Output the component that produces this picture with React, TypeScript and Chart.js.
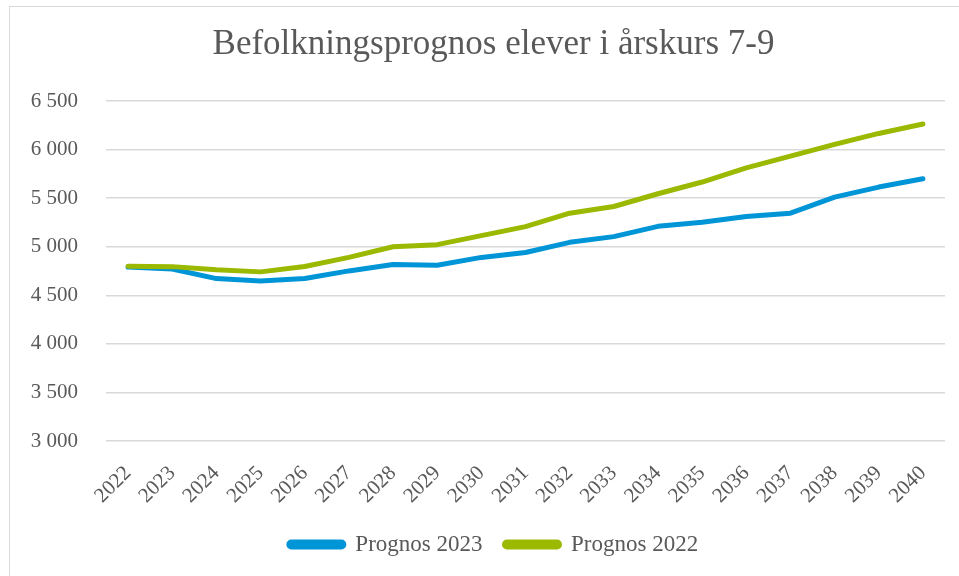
import React, { useEffect, useRef } from "react";
import { Chart, registerables } from "chart.js";

Chart.register(...registerables);

const titleText = "Befolkningsprognos elever i årskurs 7-9";
const years = ["2022", "2023", "2024", "2025", "2026", "2027", "2028", "2029", "2030", "2031", "2032", "2033", "2034", "2035", "2036", "2037", "2038", "2039", "2040"];
const prognos2023 = [4790, 4770, 4672, 4648, 4672, 4751, 4817, 4810, 4890, 4941, 5045, 5104, 5210, 5252, 5310, 5345, 5511, 5614, 5700];
const prognos2022 = [4800, 4795, 4762, 4741, 4796, 4890, 5000, 5021, 5114, 5207, 5345, 5414, 5545, 5666, 5811, 5932, 6053, 6166, 6263];
const seriesNames = ["Prognos 2023", "Prognos 2022"];
const yMin = 3000;
const yMax = 6500;
const yStep = 500;

const FONT = "'Liberation Serif', 'Times New Roman', serif";
const TEXT = "#595959";

// shifts the title and legend blocks right so they centre on the outer frame
const centreShift = {
  id: "centreShift",
  afterLayout(chart: any) {
    if (chart.titleBlock) chart.titleBlock.left += 42;
    if (chart.legend) chart.legend.left += 42;
  },
};

export default function App() {
  const ref = useRef<HTMLCanvasElement | null>(null);

  useEffect(() => {
    document.body.style.margin = "0";
    const canvas = ref.current;
    if (!canvas) return;
    const chart = new Chart(canvas, {
      type: "line",
      data: {
        labels: years,
        datasets: [
          {
            label: seriesNames[0],
            data: prognos2023,
            borderColor: "#0095D6",
            backgroundColor: "#0095D6",
            borderWidth: 5,
            pointRadius: 0,
            tension: 0,
            borderCapStyle: "round",
            borderJoinStyle: "round",
            order: 1,
          },
          {
            label: seriesNames[1],
            data: prognos2022,
            borderColor: "#9AB900",
            backgroundColor: "#9AB900",
            borderWidth: 5,
            pointRadius: 0,
            tension: 0,
            borderCapStyle: "round",
            borderJoinStyle: "round",
            order: 0,
          },
        ],
      },
      options: {
        animation: false,
        responsive: false,
        maintainAspectRatio: false,
        layout: { padding: { top: 0, left: 0, right: 14, bottom: 10 } },
        plugins: {
          title: {
            display: true,
            text: titleText,
            color: TEXT,
            font: { family: FONT, size: 35, weight: "normal" },
            padding: { top: 24, bottom: 35 },
          },
          legend: {
            position: "bottom",
            labels: {
              color: TEXT,
              font: { family: FONT, size: 23 },
              boxWidth: 55,
              boxHeight: 5,
              padding: 22,
              useBorderRadius: true,
              borderRadius: 2.5,
              sort: (a: any, b: any) => a.datasetIndex - b.datasetIndex,
            },
          },
          tooltip: { enabled: false },
        },
        scales: {
          x: {
            offset: true,
            grid: { display: false, offset: true },
            border: { display: false },
            ticks: {
              color: TEXT,
              font: { family: FONT, size: 21 },
              minRotation: 45,
              maxRotation: 45,
              padding: 12,
            },
            afterFit: (s: any) => {
              s.height = 70;
            },
          },
          y: {
            min: yMin,
            max: yMax,
            grid: { color: "#D9D9D9", lineWidth: 1.5, drawTicks: false },
            border: { display: false },
            ticks: {
              stepSize: yStep,
              color: TEXT,
              font: { family: FONT, size: 21 },
              padding: 28,
              callback: (v: any) => {
                const s = String(v);
                return s.length > 3 ? s.slice(0, s.length - 3) + " " + s.slice(-3) : s;
              },
            },
            afterFit: (s: any) => {
              s.width = 106;
            },
          },
        },
      },
      plugins: [centreShift],
    });
    return () => chart.destroy();
  }, []);

  return (
    <div style={{ position: "relative", width: 959, height: 576, overflow: "hidden", background: "#fff" }}>
      <div
        style={{
          position: "absolute",
          left: 9,
          top: 6,
          width: 1200,
          height: 1200,
          borderLeft: "1px solid #D9D9D9",
          borderTop: "1px solid #D9D9D9",
        }}
      />
      <canvas ref={ref} width={959} height={576} style={{ position: "absolute", left: 0, top: 0 }} />
    </div>
  );
}
